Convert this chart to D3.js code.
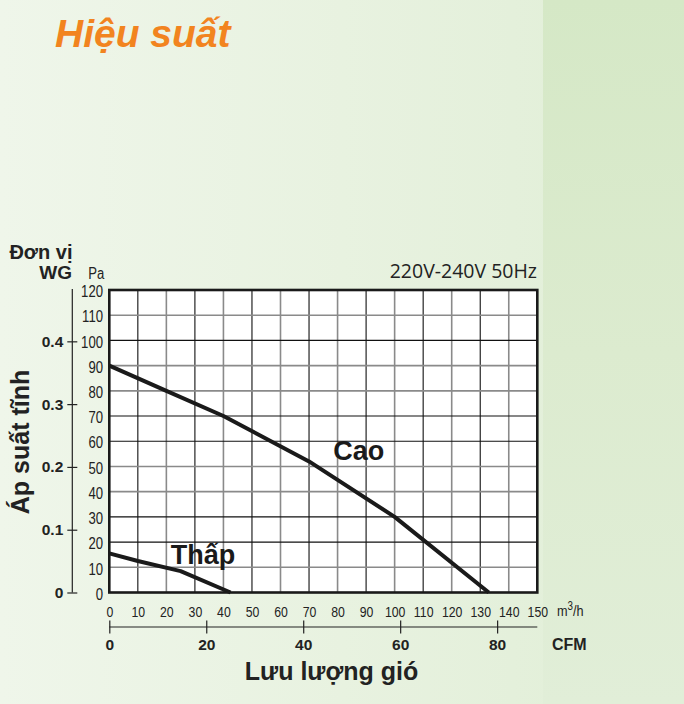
<!DOCTYPE html>
<html>
<head>
<meta charset="utf-8">
<script src="https://cdn.jsdelivr.net/npm/d3@7"></script>
<style>
html,body{margin:0;padding:0;}
body{width:684px;height:704px;overflow:hidden;}
</style>
</head>
<body>
<script>
// ---- data ----
const flowTicks = [0,10,20,30,40,50,60,70,80,90,100,110,120,130,140,150]; // m3/h
const paTicks = [0,10,20,30,40,50,60,70,80,90,100,110,120];
const wgTicks = [0,0.1,0.2,0.3,0.4];
const cfmTicks = [0,20,40,60,80];
const caoFlow = [0,20,40,70,100,133];
const caoPa   = [90,80,70,52,30,0];
const thapFlow = [0,10,25,42.5];
const thapPa   = [15.5,12.5,8.5,0];
const seriesLabels = ["Cao","Thấp"];

const W = 684, H = 704;
const svg = d3.select("body").append("svg").attr("width",W).attr("height",H);
const defs = svg.append("defs");
const g1 = defs.append("linearGradient").attr("id","bg").attr("x1","0").attr("x2","1").attr("y1","0").attr("y2","0");
g1.append("stop").attr("offset","0").attr("stop-color","#eff6ea");
g1.append("stop").attr("offset","0.5").attr("stop-color","#e8f2e0");
g1.append("stop").attr("offset","1").attr("stop-color","#e0eed6");
const g2 = defs.append("linearGradient").attr("id","strip").attr("x1","0").attr("x2","0").attr("y1","0").attr("y2","1");
g2.append("stop").attr("offset","0").attr("stop-color","#d5e8c6");
g2.append("stop").attr("offset","0.5").attr("stop-color","#dcebcf");
g2.append("stop").attr("offset","1").attr("stop-color","#e1eed8");
svg.append("rect").attr("width",W).attr("height",H).attr("fill","url(#bg)");
svg.append("rect").attr("x",543).attr("width",W-543).attr("height",H).attr("fill","url(#strip)");

const pL = 109.3, pR = 537.3, pT = 290, pB = 592.5;
const x = d3.scaleLinear().domain([0,150]).range([pL,pR]);
const y = d3.scaleLinear().domain([0,120]).range([pB,pT]);
const yWG = d3.scaleLinear().domain([0,120/249.089]).range([pB,pT]);
const xCFM = d3.scaleLinear().domain([0,150/1.699]).range([pL,pR]);

const labFont = "Liberation Sans, Arial, sans-serif";
const ink = "#222";

// title
svg.append("text").attr("x",55).attr("y",47).text("Hiệu suất")
  .attr("font-family",labFont).attr("font-weight","bold")
  .attr("font-style","italic").attr("font-size",39).attr("fill","#f2841f");

// plot background
svg.append("rect").attr("x",pL).attr("y",pT).attr("width",pR-pL).attr("height",pB-pT).attr("fill","#fff");

// grid
const darkH = new Set([100,70,60,30,20]);
const grid = svg.append("g");
grid.selectAll(".vg").data(flowTicks.slice(1,-1)).join("line")
  .attr("x1",d=>x(d)).attr("x2",d=>x(d)).attr("y1",pT).attr("y2",pB)
  .attr("stroke",d=>(d/10)%2===1?"#111":"#8a8a8a").attr("stroke-width",d=>(d/10)%2===1?1.1:1.6);
grid.selectAll(".hg").data(paTicks.slice(1,-1)).join("line")
  .attr("y1",d=>y(d)).attr("y2",d=>y(d)).attr("x1",pL).attr("x2",pR)
  .attr("stroke",d=>darkH.has(d)?"#111":"#8a8a8a").attr("stroke-width",d=>darkH.has(d)?1.1:1.6);

// curves
const line = d3.line().x(d=>x(d[0])).y(d=>y(d[1]));
svg.append("path").datum(d3.zip(caoFlow,caoPa)).attr("d",line)
  .attr("fill","none").attr("stroke","#1a1a1a").attr("stroke-width",4).attr("stroke-linejoin","round");
svg.append("path").datum(d3.zip(thapFlow,thapPa)).attr("d",line)
  .attr("fill","none").attr("stroke","#1a1a1a").attr("stroke-width",4).attr("stroke-linejoin","round");

// frame
svg.append("rect").attr("x",pL).attr("y",pT).attr("width",pR-pL).attr("height",pB-pT)
  .attr("fill","none").attr("stroke","#1a1a1a").attr("stroke-width",2.6);

// series labels
svg.append("text").attr("x",x(78.5)).attr("y",y(52.5)).text(seriesLabels[0])
  .attr("font-family",labFont).attr("font-weight","bold").attr("font-size",27).attr("fill","#1a1a1a");
svg.append("text").attr("x",x(21.5)).attr("y",y(11.5)).text(seriesLabels[1])
  .attr("font-family",labFont).attr("font-weight","bold").attr("font-size",27).attr("fill","#1a1a1a");

const NARROW = "scale(0.82,1)";

// Pa axis labels
const paAxis = svg.append("g").attr("transform","translate(103,0)")
  .call(d3.axisLeft(y).tickValues(paTicks).tickSize(0).tickPadding(0));
paAxis.select(".domain").remove();
paAxis.selectAll("text").attr("x",0).attr("dy","0.42em").attr("transform",NARROW)
  .attr("font-family",labFont).attr("font-size",16).attr("fill",ink);

// WG axis
const wgAxis = svg.append("g").attr("transform","translate(72.3,0)")
  .call(d3.axisLeft(yWG).tickValues(wgTicks).tickSize(5).tickPadding(4).tickFormat(d=>d===0?"0":d3.format(".1f")(d)));
wgAxis.select(".domain").attr("d",`M0,${pT-1}V${pB}`).attr("stroke",ink).attr("stroke-width",1.2);
wgAxis.selectAll(".tick line").attr("x1",5).attr("x2",-5).attr("stroke",ink).attr("stroke-width",1.2);
wgAxis.selectAll("text").attr("x",-9).attr("font-family",labFont).attr("font-weight","bold").attr("font-size",15.5).attr("fill",ink);

// unit labels
svg.append("text").attr("x",72.5).attr("y",259).attr("text-anchor","end").text("Đơn vị")
  .attr("font-family",labFont).attr("font-weight","bold").attr("font-size",20).attr("fill",ink);
svg.append("text").attr("x",72).attr("y",279).attr("text-anchor","end").text("WG")
  .attr("font-family",labFont).attr("font-weight","bold").attr("font-size",19).attr("fill",ink);
svg.append("text").attr("transform","translate(88.3,279) "+NARROW).text("Pa")
  .attr("font-family",labFont).attr("font-size",16).attr("fill",ink);

// y title
svg.append("text").attr("transform","translate(28.5,442) rotate(-90)").attr("text-anchor","middle")
  .text("Áp suất tĩnh").attr("font-family",labFont).attr("font-weight","bold").attr("font-size",25).attr("fill",ink);

// voltage
svg.append("text").attr("x",537).attr("y",277.5).attr("text-anchor","end").text("220V-240V 50Hz")
  .attr("font-family","Open Sans, Noto Sans, sans-serif").attr("font-size",19.5).attr("fill",ink);

// m3/h axis labels
const flowAxis = svg.append("g").attr("transform",`translate(0,${pB})`)
  .call(d3.axisBottom(x).tickValues(flowTicks).tickSize(0).tickPadding(0));
flowAxis.select(".domain").remove();
flowAxis.selectAll("text").attr("y",617-pB).attr("dy",0).attr("transform",NARROW)
  .attr("font-family",labFont).attr("font-size",15).attr("fill",ink);
const mh = svg.append("text").attr("transform","translate(557,616) "+NARROW)
  .attr("font-family",labFont).attr("font-size",15.5).attr("fill",ink);
mh.append("tspan").text("m");
mh.append("tspan").text("3").attr("dy",-6).attr("font-size",12);
mh.append("tspan").text("/h").attr("dy",6);

// CFM axis
const cfmAxis = svg.append("g").attr("transform","translate(0,627)")
  .call(d3.axisBottom(xCFM).tickValues(cfmTicks).tickSize(6).tickPadding(6));
cfmAxis.select(".domain").attr("d",`M${pL},0H${pR}`).attr("stroke",ink).attr("stroke-width",1.2);
cfmAxis.selectAll(".tick line").attr("y1",-6.5).attr("y2",6.5).attr("stroke",ink).attr("stroke-width",1.2);
cfmAxis.selectAll("text").attr("y",23).attr("dy",0)
  .attr("font-family",labFont).attr("font-weight","bold").attr("font-size",15.5).attr("fill",ink);
svg.append("text").attr("x",552).attr("y",650).text("CFM")
  .attr("font-family",labFont).attr("font-weight","bold").attr("font-size",16).attr("fill",ink);

// x title
svg.append("text").attr("x",331.5).attr("y",680).attr("text-anchor","middle").text("Lưu lượng gió")
  .attr("font-family",labFont).attr("font-weight","bold").attr("font-size",25).attr("fill",ink);
</script>
</body>
</html>
